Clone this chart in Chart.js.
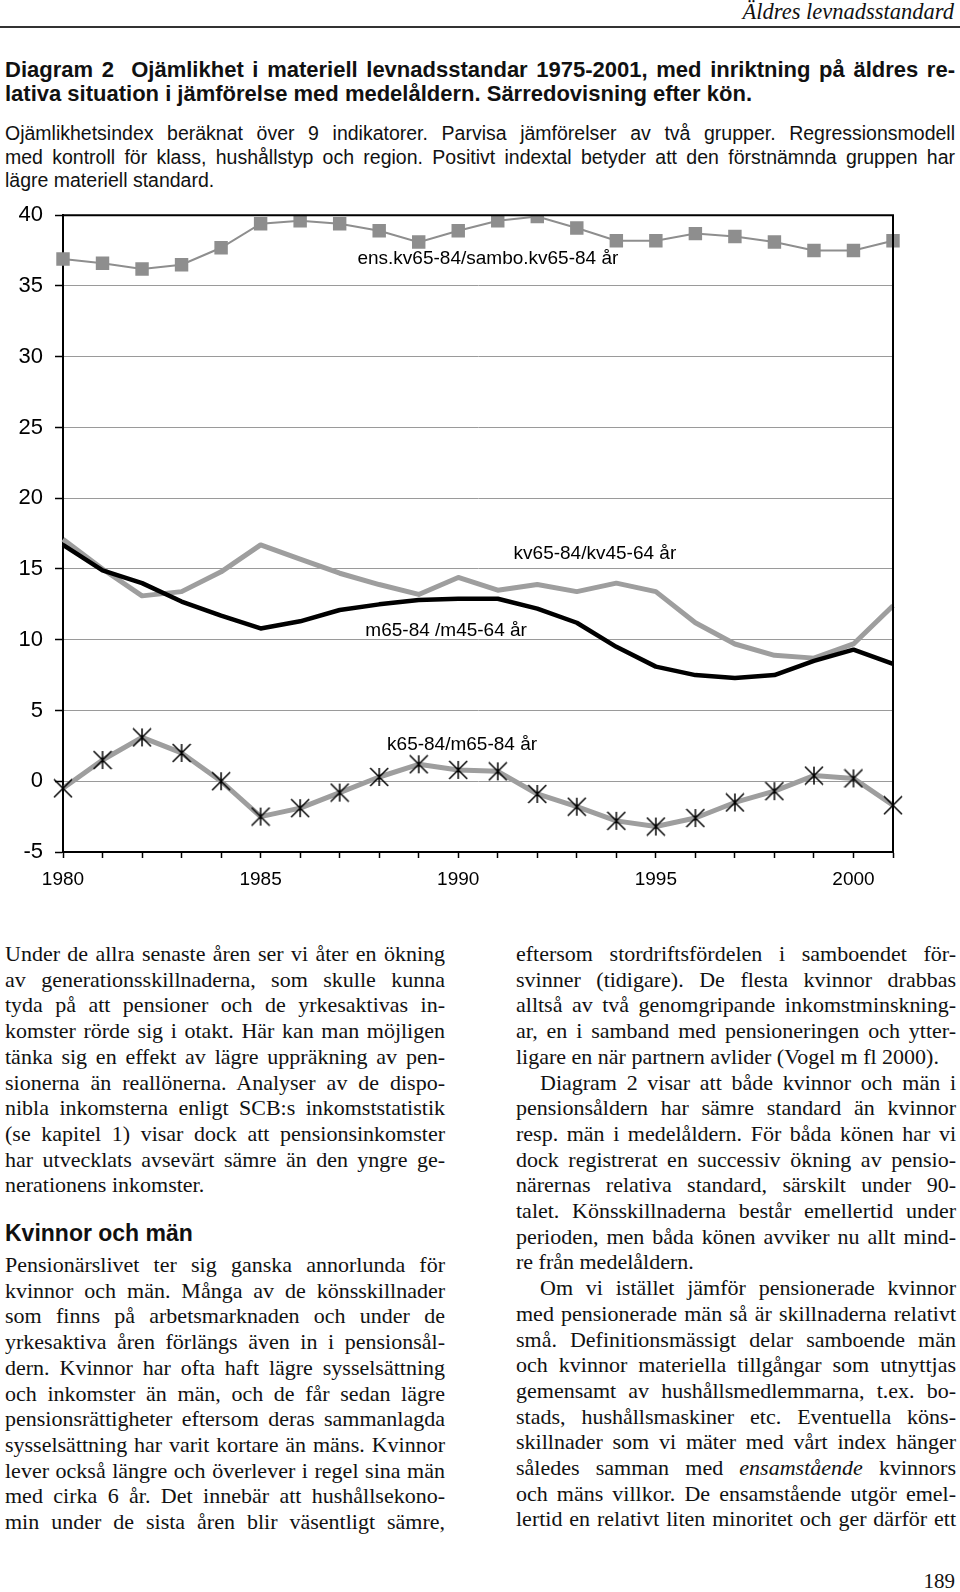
<!DOCTYPE html>
<html lang="sv">
<head>
<meta charset="utf-8">
<title>Diagram 2 – Ojämlikhet i materiell levnadsstandard</title>
<script src="https://cdn.jsdelivr.net/npm/chart.js@4.4.1/dist/chart.umd.min.js"></script>
<style>
  html, body { margin: 0; padding: 0; background: #fff; }
  body { width: 960px; height: 1592px; position: relative; overflow: hidden; color: #111; }
  .head { position: absolute; right: 6px; top: 1px; font: italic 22.5px "Liberation Serif", serif; line-height: 22px; }
  .rule { position: absolute; left: 0; top: 26px; width: 960px; height: 2px; background: #333; }
  .title { position: absolute; left: 5px; top: 58px; width: 950px; font: bold 22px "Liberation Sans", sans-serif; line-height: 24px; }
  .sub { position: absolute; left: 5px; top: 122px; width: 950px; font: 19.5px "Liberation Sans", sans-serif; line-height: 23.5px; }
  .title div, .sub div, .col div { text-align: justify; text-align-last: justify; }
  .title div.end, .sub div.end, .col div.end { text-align-last: left; }
  #chartBox { position: absolute; left: 0; top: 190px; width: 960px; height: 710px; }
  .col { position: absolute; width: 440px; font: 22px "Liberation Serif", serif; line-height: 25.7px; }
  .col div.ind { text-indent: 24px; }
  .h2 { position: absolute; left: 5px; top: 1220px; font: bold 23px "Liberation Sans", sans-serif; line-height: 26px; }
  .pageno { position: absolute; right: 5px; top: 1569px; font: 21px "Liberation Serif", serif; line-height: 24px; }
</style>
</head>
<body>

<div class="head">Äldres levnadsstandard</div>
<div class="rule"></div>

<div class="title">
  <div>Diagram 2&nbsp; Ojämlikhet i materiell levnadsstandar 1975-2001, med inriktning på äldres re-</div>
  <div class="end">lativa situation i jämförelse med medelåldern. Särredovisning efter kön.</div>
</div>

<div class="sub">
  <div>Ojämlikhetsindex beräknat över 9 indikatorer. Parvisa jämförelser av två grupper. Regressionsmodell</div>
  <div>med kontroll för klass, hushållstyp och region. Positivt indextal betyder att den förstnämnda gruppen har</div>
  <div class="end">lägre materiell standard.</div>
</div>

<div id="chartBox"><canvas id="diagram"></canvas></div>

<div class="col" style="left:5px; top:941px;">
  <div>Under de allra senaste åren ser vi åter en ökning</div>
  <div>av generationsskillnaderna, som skulle kunna</div>
  <div>tyda på att pensioner och de yrkesaktivas in-</div>
  <div>komster rörde sig i otakt. Här kan man möjligen</div>
  <div>tänka sig en effekt av lägre uppräkning av pen-</div>
  <div>sionerna än reallönerna. Analyser av de dispo-</div>
  <div>nibla inkomsterna enligt SCB:s inkomststatistik</div>
  <div>(se kapitel 1) visar dock att pensionsinkomster</div>
  <div>har utvecklats avsevärt sämre än den yngre ge-</div>
  <div class="end">nerationens inkomster.</div>
</div>

<div class="h2">Kvinnor och män</div>

<div class="col" style="left:5px; top:1252px;">
  <div>Pensionärslivet ter sig ganska annorlunda för</div>
  <div>kvinnor och män. Många av de könsskillnader</div>
  <div>som finns på arbetsmarknaden och under de</div>
  <div>yrkesaktiva åren förlängs även in i pensionsål-</div>
  <div>dern. Kvinnor har ofta haft lägre sysselsättning</div>
  <div>och inkomster än män, och de får sedan lägre</div>
  <div>pensionsrättigheter eftersom deras sammanlagda</div>
  <div>sysselsättning har varit kortare än mäns. Kvinnor</div>
  <div>lever också längre och överlever i regel sina män</div>
  <div>med cirka 6 år. Det innebär att hushållsekono-</div>
  <div>min under de sista åren blir väsentligt sämre,</div>
</div>

<div class="col" style="left:516px; top:941px;">
  <div>eftersom stordriftsfördelen i samboendet för-</div>
  <div>svinner (tidigare). De flesta kvinnor drabbas</div>
  <div>alltså av två genomgripande inkomstminskning-</div>
  <div>ar, en i samband med pensioneringen och ytter-</div>
  <div class="end">ligare en när partnern avlider (Vogel m fl 2000).</div>
  <div class="ind">Diagram 2 visar att både kvinnor och män i</div>
  <div>pensionsåldern har sämre standard än kvinnor</div>
  <div>resp. män i medelåldern. För båda könen har vi</div>
  <div>dock registrerat en successiv ökning av pensio-</div>
  <div>närernas relativa standard, särskilt under 90-</div>
  <div>talet. Könsskillnaderna består emellertid under</div>
  <div>perioden, men båda könen avviker nu allt mind-</div>
  <div class="end">re från medelåldern.</div>
  <div class="ind">Om vi istället jämför pensionerade kvinnor</div>
  <div>med pensionerade män så är skillnaderna relativt</div>
  <div>små. Definitionsmässigt delar samboende män</div>
  <div>och kvinnor materiella tillgångar som utnyttjas</div>
  <div>gemensamt av hushållsmedlemmarna, t.ex. bo-</div>
  <div>stads, hushållsmaskiner etc. Eventuella köns-</div>
  <div>skillnader som vi mäter med vårt index hänger</div>
  <div>således samman med <i>ensamstående</i> kvinnors</div>
  <div>och mäns villkor. De ensamstående utgör emel-</div>
  <div>lertid en relativt liten minoritet och ger därför ett</div>
</div>

<div class="pageno">189</div>

<script>
'use strict';

// data
const years = ["1980", "1981", "1982", "1983", "1984", "1985", "1986", "1987", "1988", "1989", "1990",
               "1991", "1992", "1993", "1994", "1995", "1996", "1997", "1998", "1999", "2000", "2001"];

// ens.kv65-84/sambo.kv65-84 år
const ensamSambo = [36.9, 36.6, 36.2, 36.5, 37.7, 39.4, 39.6, 39.4, 38.9, 38.1, 38.9,
                    39.6, 39.9, 39.1, 38.2, 38.2, 38.7, 38.5, 38.1, 37.5, 37.5, 38.2];

// kv65-84/kv45-64 år
const kvinnorAlder = [17.1, 15.0, 13.1, 13.4, 14.8, 16.7, 15.7, 14.7, 13.9, 13.2, 14.4,
                      13.5, 13.9, 13.4, 14.0, 13.4, 11.2, 9.7, 8.9, 8.7, 9.7, 12.4];

// m65-84 /m45-64 år
const manAlder = [16.7, 14.9, 14.0, 12.7, 11.7, 10.8, 11.3, 12.1, 12.5, 12.8, 12.9,
                  12.9, 12.2, 11.2, 9.5, 8.1, 7.5, 7.3, 7.5, 8.5, 9.3, 8.3];

// k65-84/m65-84 år
const kvinnorMan = [-0.5, 1.5, 3.1, 2.0, 0.0, -2.5, -1.9, -0.8, 0.3, 1.2, 0.8,
                    0.7, -0.9, -1.8, -2.8, -3.2, -2.6, -1.5, -0.7, 0.4, 0.2, -1.7];

const yMin = -5;
const yMax = 40;
const yStep = 5;
const labelledYears = ["1980", "1985", "1990", "1995", "2000"];

// series names written inside the plot, placed in data units (year, index value)
const seriesNames = ["ens.kv65-84/sambo.kv65-84 år", "kv65-84/kv45-64 år", "m65-84 /m45-64 år", "k65-84/m65-84 år"];
const nameYears = [1987.45, 1991.4, 1987.65, 1988.2];
const nameValues = [36.9, 16.1, 10.6, 2.6];

const SANS = '"Liberation Sans", Arial, sans-serif';

// Main function
function main() {
  drawDiagram();
}

// asterisk marker like the old spreadsheet one: an X with a vertical stroke
function asteriskMarker(size) {
  const c = document.createElement('canvas');
  c.width = size;
  c.height = size;
  const g = c.getContext('2d');
  g.strokeStyle = '#000';
  g.lineWidth = 1.5;
  const a = 1, b = size - 1, mid = size / 2;
  g.beginPath();
  g.moveTo(a, a); g.lineTo(b, b);
  g.moveTo(b, a); g.lineTo(a, b);
  g.moveTo(mid, a); g.lineTo(mid, b);
  g.stroke();
  return c;
}

// black frame round the plot area (top and right sides too)
const frame = {
  id: 'frame',
  afterDatasetsDraw(chart) {
    const a = chart.chartArea, ctx = chart.ctx;
    ctx.save();
    ctx.strokeStyle = '#000';
    ctx.lineWidth = 2;
    ctx.beginPath();
    ctx.moveTo(a.left, a.top);
    ctx.lineTo(a.right, a.top);
    ctx.lineTo(a.right, a.bottom);
    ctx.stroke();
    ctx.restore();
  }
};

// series names inside the chart
const names = {
  id: 'names',
  afterDraw(chart) {
    const ctx = chart.ctx, x = chart.scales.x, y = chart.scales.y;
    ctx.save();
    ctx.fillStyle = '#000';
    ctx.font = '19px ' + SANS;
    ctx.textAlign = 'left';
    ctx.textBaseline = 'middle';
    for (let i = 0; i < seriesNames.length; i++) {
      const px = x.getPixelForValue(nameYears[i] - Number(years[0]));
      const py = y.getPixelForValue(nameValues[i]);
      ctx.fillText(seriesNames[i], px, py);
    }
    ctx.restore();
  }
};

function drawDiagram() {
  const ctx = document.getElementById('diagram');

  window.diagram = new Chart(ctx, {
    type: 'line',
    data: {
      labels: years,
      datasets: [
        {
          label: 'ens.kv65-84/sambo.kv65-84 år',
          data: ensamSambo,
          borderColor: '#8e8e8e',
          borderWidth: 2,
          pointStyle: 'rect',
          pointRadius: 9.5,
          pointBorderWidth: 0,
          pointBackgroundColor: '#8e8e8e',
          tension: 0
        },
        {
          label: 'm65-84 /m45-64 år',
          data: manAlder,
          borderColor: '#000',
          borderWidth: 4.5,
          pointRadius: 0,
          borderJoinStyle: 'round',
          tension: 0
        },
        {
          label: 'kv65-84/kv45-64 år',
          data: kvinnorAlder,
          borderColor: '#9e9e9e',
          borderWidth: 5,
          pointRadius: 0,
          borderJoinStyle: 'round',
          tension: 0
        },
        {
          label: 'k65-84/m65-84 år',
          data: kvinnorMan,
          borderColor: '#9e9e9e',
          borderWidth: 5,
          borderJoinStyle: 'round',
          pointStyle: asteriskMarker(20),
          pointRadius: 10,
          tension: 0
        }
      ]
    },
    options: {
      responsive: true,
      maintainAspectRatio: false,
      animation: false,
      events: [],
      layout: {
        padding: { left: 0, right: 67, top: 25, bottom: 0 }
      },
      plugins: {
        legend: { display: false },
        tooltip: { enabled: false }
      },
      scales: {
        x: {
          offset: false,
          afterFit: function (scale) { scale.height = 48; },
          ticks: {
            autoSkip: false,
            maxRotation: 0,
            padding: 10,
            color: '#000',
            font: { family: SANS, size: 19 },
            callback: function (value, index) {
              return labelledYears.includes(years[index]) ? years[index] : '';
            }
          },
          grid: {
            drawOnChartArea: false,
            tickLength: 6,
            tickColor: '#000',
            tickWidth: 1.5
          },
          border: { color: '#000', width: 2 }
        },
        y: {
          min: yMin,
          max: yMax,
          afterFit: function (scale) { scale.width = 63; },
          ticks: {
            stepSize: yStep,
            padding: 12,
            color: '#000',
            font: { family: SANS, size: 22 }
          },
          grid: {
            color: '#9a9a9a',
            lineWidth: 1,
            tickLength: 8,
            tickColor: '#000',
            tickWidth: 1.5
          },
          border: { color: '#000', width: 2 }
        }
      }
    },
    plugins: [frame, names]
  });
}

// Main function call
main();
</script>
</body>
</html>
